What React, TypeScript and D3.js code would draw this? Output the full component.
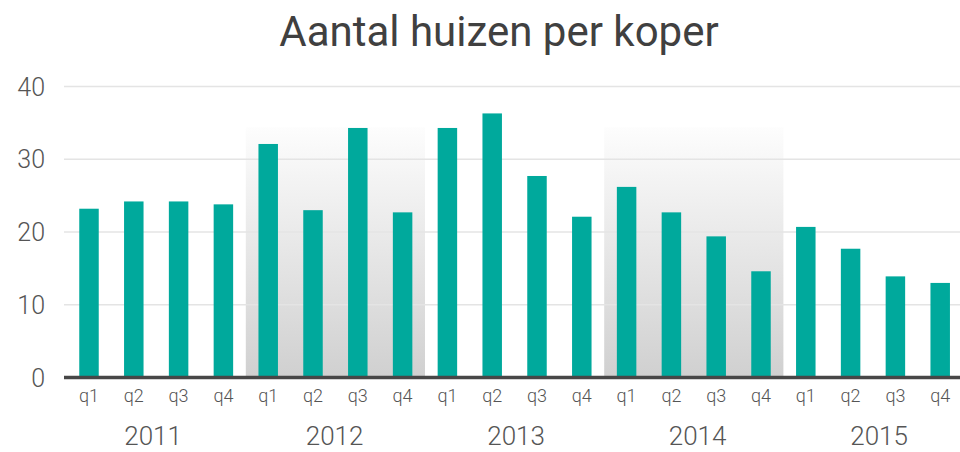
import React from "react";
import * as d3 from "d3";

const title = "Aantal huizen per koper";
const years = ["2011", "2012", "2013", "2014", "2015"];
const quarters = ["q1", "q2", "q3", "q4"];
const values2011 = [23.2, 24.2, 24.2, 23.8];
const values2012 = [32.1, 23.0, 34.3, 22.7];
const values2013 = [34.3, 36.3, 27.7, 22.1];
const values2014 = [26.2, 22.7, 19.4, 14.6];
const values2015 = [20.7, 17.7, 13.9, 13.0];
const yTicks = [0, 10, 20, 30, 40];
const shadedYears = ["2012", "2014"];

const W = 960;
const H = 452;
const FONT = "Roboto, 'Noto Sans', sans-serif";

export default function App() {
  const series = [values2011, values2012, values2013, values2014, values2015];
  const data = years.flatMap((yr, yi) =>
    quarters.map((q, qi) => ({ key: `${yr}-${q}`, year: yr, q, value: series[yi][qi] }))
  );

  const x0 = 66.6;
  const x1 = 962.6;
  const pad = 0.565;
  const x = d3
    .scaleBand<string>()
    .domain(data.map((d) => d.key))
    .range([x0, x1])
    .paddingInner(pad)
    .paddingOuter(pad / 2);
  const step = x.step();
  const bw = x.bandwidth();

  const y = d3.scaleLinear().domain([0, 40]).range([377.5, 86.5]);

  const yearX = d3.scalePoint<string>().domain(years).range([x0 + 86.5, x1 - 83.5]);

  const bandTop = y(34.4);

  return (
    <svg
      width={W}
      height={H}
      style={{ position: "absolute", left: 0, top: 0, background: "#fff" }}
      fontFamily={FONT}
    >
      <defs>
        <linearGradient id="bandGrad" x1="0" y1="0" x2="0" y2="1">
          <stop offset="0%" stopColor="#fdfdfd" />
          <stop offset="100%" stopColor="#d0d0d0" />
        </linearGradient>
      </defs>

      <text x={499} y={46} textAnchor="middle" fontSize={42} fill="#404040">
        {title}
      </text>

      {shadedYears.map((yr) => {
        const start = (x(`${yr}-q1`) as number) - (step - bw) / 2;
        return (
          <rect
            key={yr}
            x={start}
            y={bandTop}
            width={step * 4}
            height={y(0) - bandTop}
            fill="url(#bandGrad)"
          />
        );
      })}

      {yTicks.map((t) => (
        <g key={t}>
          {t > 0 && (
            <line x1={64} x2={W} y1={y(t)} y2={y(t)} stroke="#e4e4e4" strokeWidth={1.5} />
          )}
          <text
            x={45}
            y={y(t)}
            dy="0.36em"
            textAnchor="end"
            fontSize={25}
            fontWeight={300}
            fill="#555"
          >
            {t}
          </text>
        </g>
      ))}

      {data.map((d) => (
        <rect
          key={d.key}
          x={x(d.key)}
          y={y(d.value)}
          width={bw}
          height={y(0) - y(d.value)}
          fill="#00a99c"
        />
      ))}

      <line x1={64} x2={W} y1={y(0)} y2={y(0)} stroke="#474747" strokeWidth={3.5} />

      {data.map((d) => (
        <text
          key={`l-${d.key}`}
          x={(x(d.key) as number) + bw / 2}
          y={402}
          textAnchor="middle"
          fontSize={18}
          fontWeight={300}
          fill="#555"
        >
          {d.q}
        </text>
      ))}

      {years.map((yr) => (
        <text
          key={`y-${yr}`}
          x={yearX(yr)}
          y={445}
          textAnchor="middle"
          fontSize={26}
          fontWeight={300}
          fill="#555"
        >
          {yr}
        </text>
      ))}
    </svg>
  );
}
